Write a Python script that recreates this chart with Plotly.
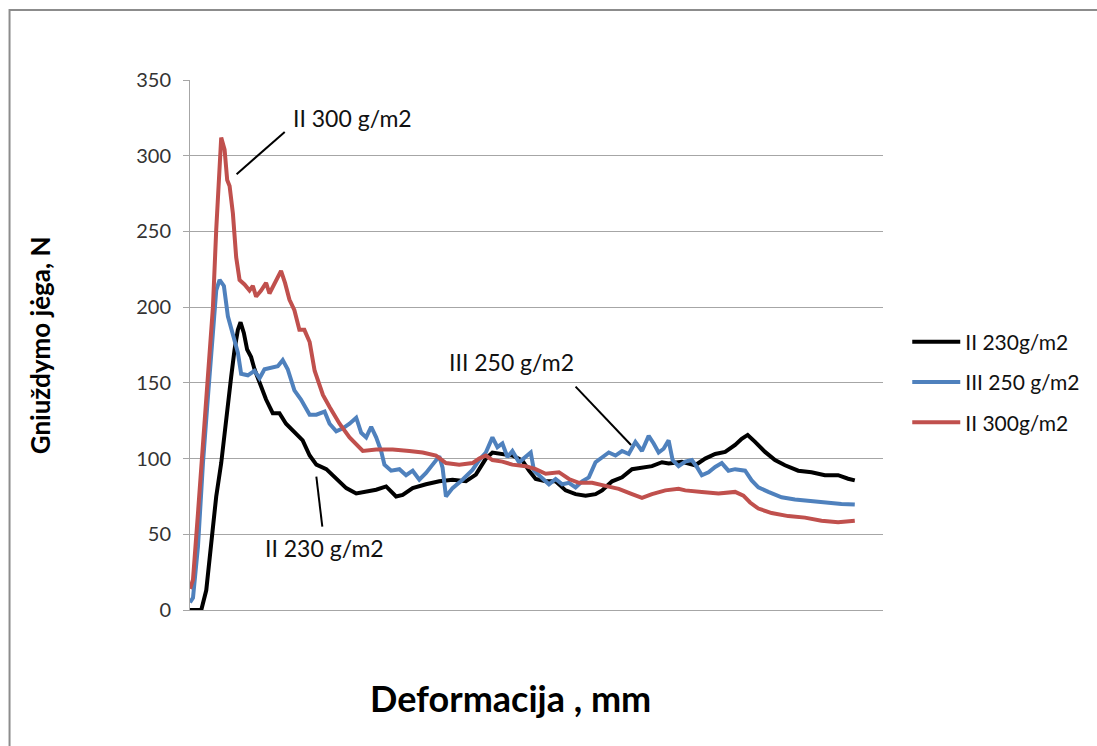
import plotly.graph_objects as go

# Deformation (mm) and force (N)
x_230 = [0.0, 0.3, 1.13, 1.63, 2.13, 2.63, 3.13, 3.63, 4.13, 4.47, 4.8, 5.07, 5.4, 5.73, 6.13, 6.47, 6.97,
         7.63, 8.3, 8.97, 9.63, 10.47, 11.3, 12.0, 12.67, 13.67, 14.67, 15.67, 16.67, 17.67, 18.67, 19.67,
         20.67, 21.33, 22.33, 23.67, 25.0, 26.33, 27.67, 28.67, 29.0, 29.67, 30.33, 31.33, 32.33, 33.33,
         34.0, 34.67, 35.67, 36.67, 37.67, 38.67, 39.67, 40.67, 41.33, 42.33, 43.33, 44.33, 45.33, 46.33,
         47.33, 48.0, 49.33, 50.67, 51.67, 52.67, 53.67, 54.67, 55.33, 55.93, 56.67, 57.67, 58.67, 59.67,
         61.0, 62.33, 63.67, 65.0, 66.0, 66.67]
y_230 = [0, 0, 0, 13, 42, 75, 97, 123, 154, 172, 185, 190, 183, 172, 167, 159, 150,
         139, 130, 130, 123, 117, 112, 102, 96, 93, 87, 80.5, 77, 78, 79.4, 81.6,
         75, 76, 80.5, 83, 85, 86, 85, 89.4, 93, 100, 104, 103, 102, 98.7,
         92, 86.5, 85, 85, 79, 76.5, 75.4, 76.5, 79, 85, 87.6, 93, 94, 95,
         97.6, 96.7, 97.8, 95.6, 100, 103, 104.4, 109, 113, 115.6, 111, 104.4, 99, 95.6,
         92, 91, 89, 89, 86.7, 85.6]

x_250 = [0.0, 0.3, 0.8, 1.3, 1.8, 2.3, 2.63, 2.97, 3.4, 3.8, 4.3, 4.8, 5.13, 5.8, 6.47, 6.97, 7.47,
         8.13, 8.8, 9.3, 9.8, 10.47, 11.13, 12.0, 12.67, 13.5, 14.0, 14.67, 15.33, 16.0, 16.67, 17.17,
         17.67, 18.17, 18.67, 19.17, 19.5, 20.17, 21.0, 21.67, 22.33, 23.0, 23.67, 24.33, 25.0, 25.33,
         25.67, 26.33, 27.33, 28.33, 29.0, 29.67, 30.33, 30.83, 31.33, 31.83, 32.33, 33.0, 33.67, 34.17,
         34.5, 35.17, 36.0, 36.67, 37.33, 38.0, 38.67, 39.33, 40.0, 40.67, 41.33, 42.0, 42.67, 43.33,
         44.0, 44.67, 45.33, 46.0, 46.5, 47.0, 47.5, 48.0, 48.4, 49.0, 49.67, 50.33, 50.83, 51.33, 52.0,
         52.67, 53.33, 54.0, 54.67, 55.67, 56.33, 57.0, 58.0, 59.33, 60.67, 62.0, 63.67, 65.33, 66.67]
y_250 = [5, 8, 42, 97, 141, 185, 211, 218, 214, 194, 183, 170, 156, 155, 158, 153, 159,
         160, 161, 165, 159, 145, 139, 129, 129, 131, 123, 118, 120, 123, 127, 117,
         114, 121, 114, 105, 96, 92, 93, 89, 92, 86, 90.5, 96, 101.5, 94,
         75, 80.5, 86, 92.5, 99, 104, 114, 107.5, 110, 101, 105, 97.5, 101, 104,
         92, 87.6, 83, 86.5, 83, 84, 81, 85, 87.6, 97.6, 101, 104, 102, 105,
         103, 111, 105, 115, 110, 104, 106.5, 112, 99, 95, 98, 99, 94.5, 89, 91,
         94.5, 97, 92, 93, 92, 85.6, 81, 78, 74.4, 73, 72, 71, 70, 69.6]

x_300 = [0.0, 0.3, 0.8, 1.3, 1.8, 2.3, 2.63, 2.97, 3.13, 3.47, 3.73, 3.97, 4.3, 4.63, 4.97, 5.47, 5.97,
         6.3, 6.63, 7.13, 7.63, 7.97, 8.47, 9.13, 9.53, 9.97, 10.47, 10.97, 11.47, 12.0, 12.5, 13.33,
         14.0, 15.0, 16.0, 17.33, 18.67, 20.33, 22.0, 23.33, 24.67, 25.67, 27.0, 28.33, 29.0, 29.67,
         30.33, 31.33, 32.33, 33.67, 34.67, 35.67, 37.0, 38.0, 39.0, 40.33, 41.67, 43.0, 44.33, 45.33,
         46.33, 47.67, 49.0, 49.67, 51.33, 53.0, 54.67, 55.5, 56.17, 57.0, 58.33, 60.0, 61.67, 63.33,
         65.0, 66.67]
y_300 = [14, 20, 64, 108, 152, 200, 251, 300, 312, 304, 284, 280, 262, 233, 218, 215, 211,
         214, 207, 211, 216, 209, 215, 224, 216, 205, 198, 185, 185, 177, 158, 142,
         134, 123, 114, 105, 106, 106, 105, 104, 102, 97, 96, 97, 100, 102,
         99, 98, 96, 95, 93, 90, 91, 86.5, 84, 84, 82, 80, 76.5, 74,
         76.5, 79, 80, 79, 78, 77, 78, 75.5, 71, 67, 64, 62, 61, 59,
         58, 59]

series = [
    ("II 230g/m2", x_230, y_230, "#000000"),
    ("III 250 g/m2", x_250, y_250, "#4f81bd"),
    ("II 300g/m2", x_300, y_300, "#c0504d"),
]

y_ticks = [0, 50, 100, 150, 200, 250, 300, 350]

FONT = "Lato"

fig = go.Figure()
for i, (name, xs, ys, col) in enumerate(series):
    fig.add_trace(go.Scatter(x=xs, y=ys, mode="lines", name=name,
                             line=dict(color=col, width=4),
                             legendgroup=f"g{i}"))

# callout labels (text position, line start, line end)
callouts = [
    ("II 300 g/m2", (16.3, 325), (9.5, 315.7), (4.67, 287.8)),
    ("II 230 g/m2", (13.5, 41), (12.67, 88), (13.27, 55)),
    ("III 250 g/m2", (32.2, 164), (38.67, 147.5), (44.23, 109)),
]
for text, (tx, ty), (x0, y0), (x1, y1) in callouts:
    fig.add_annotation(x=tx, y=ty, text=text, showarrow=False,
                       font=dict(family=FONT, size=23, color="#111"))
    fig.add_shape(type="line", x0=x0, y0=y0, x1=x1, y1=y1, xref="x", yref="y",
                  line=dict(color="#000", width=2))

# axis titles
fig.add_annotation(xref="paper", yref="paper", x=-0.242, y=0.5, text="<b>Gniuždymo jėga, N</b>",
                   textangle=-90, showarrow=False, font=dict(family=FONT, size=26, color="#000"))
fig.add_annotation(xref="paper", yref="paper", x=0.463, y=-0.166, yanchor="middle",
                   text="<b>Deformacija , mm</b>",
                   showarrow=False, font=dict(family=FONT, size=36, color="#000"))

# outer chart frame (left and top visible)
fig.add_shape(type="rect", xref="paper", yref="paper", x0=-0.2604, y0=-0.8, x1=2.0, y1=1.132,
              line=dict(color="#8c8c8c", width=2), layer="below")

fig.update_layout(
    width=1097, height=746,
    margin=dict(l=190, r=212, t=80, b=136),
    paper_bgcolor="white", plot_bgcolor="white",
    font=dict(family=FONT, color="#222"),
    showlegend=True,
    legend=dict(x=1.035, y=0.43, xanchor="left", yanchor="middle",
                font=dict(family=FONT, size=21, color="#111"),
                tracegroupgap=10, traceorder="grouped", itemwidth=48),
    xaxis=dict(range=[0, 69.5], showgrid=False, showticklabels=False, ticks="",
               showline=True, linecolor="#a6a6a6", linewidth=1, zeroline=False, fixedrange=True),
    yaxis=dict(range=[0, 350], tickvals=y_ticks, showgrid=True, gridcolor="#a6a6a6", gridwidth=1,
               showline=True, linecolor="#a6a6a6", linewidth=1, ticks="outside", ticklen=6,
               tickcolor="#a6a6a6", tickfont=dict(family=FONT, size=20, color="#333"),
               ticklabelstandoff=8, zeroline=False, fixedrange=True),
)

fig.write_html("out.html")
